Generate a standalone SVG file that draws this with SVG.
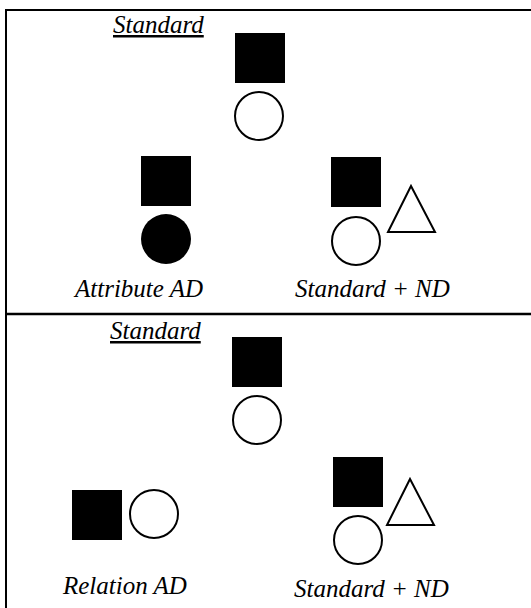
<svg xmlns="http://www.w3.org/2000/svg" width="531" height="608" viewBox="0 0 531 608">
<style>
  .frame{fill:none;stroke:#000;stroke-width:2}
  .div{stroke:#000;stroke-width:2.5}
  .sq{fill:#000}
  .oc{fill:#fff;stroke:#000;stroke-width:2}
  .fc{fill:#000}
  .tri{fill:#fff;stroke:#000;stroke-width:2;stroke-linejoin:miter}
  .lbl{font-family:'Liberation Serif','Times New Roman',serif;font-style:italic;font-size:25px;fill:#000}
  .ul{text-decoration:underline}
</style>
<rect width="531" height="608" fill="#fff"/>
<rect class="frame" x="6" y="10" width="540" height="620"/>
<line class="div" x1="6" y1="314" x2="531" y2="314"/>

<!-- top panel -->
<g id="top-title"><text class="lbl ul" x="113" y="33">Standard</text></g>
<g id="top-standard">
  <rect class="sq" x="235" y="33" width="50" height="50"/>
  <circle class="oc" cx="259" cy="116" r="24"/>
</g>
<g id="attribute-ad">
  <rect class="sq" x="141" y="156" width="50" height="50"/>
  <circle class="fc" cx="166" cy="239" r="25"/>
  <text class="lbl" x="75" y="297">Attribute AD</text>
</g>
<g id="top-standard-nd">
  <rect class="sq" x="331" y="157" width="50" height="50"/>
  <circle class="oc" cx="356" cy="241" r="24"/>
  <polygon class="tri" points="411,186 388,232 435,232"/>
  <text class="lbl" x="295" y="297">Standard + ND</text>
</g>

<!-- bottom panel -->
<g id="bottom-title"><text class="lbl ul" x="110" y="339">Standard</text></g>
<g id="bottom-standard">
  <rect class="sq" x="232" y="337" width="50" height="50"/>
  <circle class="oc" cx="257" cy="420" r="24"/>
</g>
<g id="relation-ad">
  <rect class="sq" x="72" y="490" width="50" height="50"/>
  <circle class="oc" cx="154" cy="514" r="24"/>
  <text class="lbl" x="63" y="594">Relation AD</text>
</g>
<g id="bottom-standard-nd">
  <rect class="sq" x="333" y="457" width="50" height="50"/>
  <circle class="oc" cx="358" cy="540" r="24"/>
  <polygon class="tri" points="410,479 387,525 434,525"/>
  <text class="lbl" x="294" y="597">Standard + ND</text>
</g>
</svg>
